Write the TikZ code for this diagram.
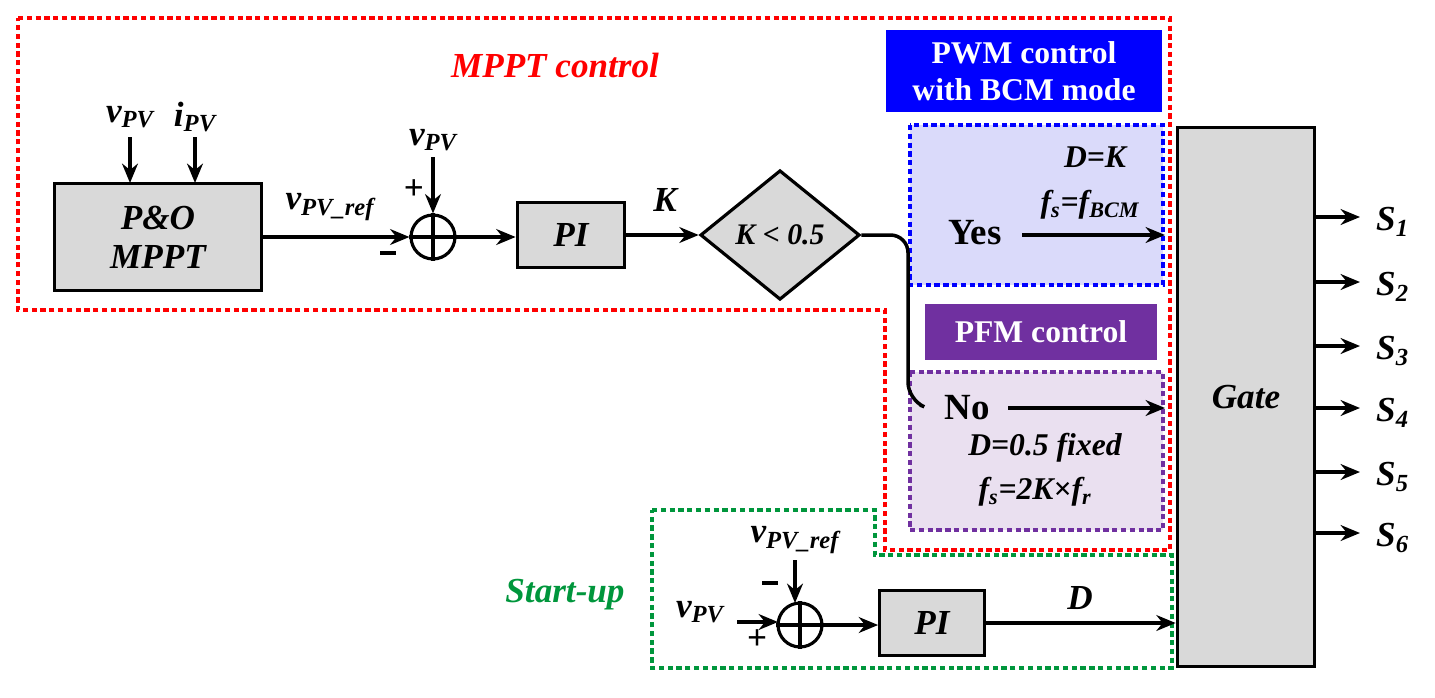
\documentclass[tikz,border=0pt]{standalone}
\usepackage{fontspec}
\setmainfont{Liberation Serif}
\usetikzlibrary{shapes.geometric,arrows.meta}
\definecolor{myblue}{RGB}{0,0,255}
\definecolor{mypurple}{RGB}{112,48,160}
\definecolor{lblue}{RGB}{218,218,250}
\definecolor{lpurp}{RGB}{234,224,240}
\definecolor{mygreen}{RGB}{0,150,60}
\definecolor{gbox}{RGB}{217,217,217}
\begin{document}
\begin{tikzpicture}[x=0.02cm,y=-0.02cm,
 blk/.style={draw,line width=1.8pt,fill=gbox,font=\fontsize{20}{22}\selectfont\bfseries\itshape,align=center},
 lbl/.style={font=\fontsize{20}{22}\selectfont\bfseries\itshape},
 sm/.style={font=\fontsize{18}{20}\selectfont\bfseries\itshape},
 arr/.style={line width=1.9pt,-{Stealth[length=11pt,width=9pt]}},
 dsh/.style={line width=2pt,dash pattern=on 3pt off 2pt},
 sg/.style={font=\fontsize{20}{22}\selectfont\bfseries},
 sum/.style={draw,circle,line width=1.8pt,minimum size=25pt,inner sep=0pt}]
\useasboundingbox (0,0) rectangle (1435,697);
% regions
\draw[red,dsh] (18,18) -- (1170,18) -- (1170,550) -- (885,550) -- (885,310) -- (18,310) -- cycle;
\node[red,lbl] (mt) at (555,65) {MPPT control};
\node[fill=myblue,text=white,font=\fontsize{18}{21}\selectfont\bfseries,align=center,minimum width=278*0.567pt,minimum height=82*0.567pt] (pwm) at (1024,71) {PWM control\\with BCM mode};
\draw[myblue,dsh,fill=lblue] (910,125) rectangle (1163,285);
\node[fill=mypurple,text=white,font=\fontsize{18}{20}\selectfont\bfseries,minimum width=232*0.567pt,minimum height=57*0.567pt] (pfm) at (1041,332) {PFM control};
\draw[mypurple,dsh,fill=lpurp] (910,372) rectangle (1163,530);
\draw[mygreen,dsh] (652,510) -- (875,510) -- (875,555) -- (1172,555) -- (1172,668) -- (652,668) -- cycle;
\node[mygreen,lbl] (su) at (565,595) {Start-up};
% gate
\node[blk,minimum width=138*0.567pt,minimum height=541*0.567pt] (gate) at (1246,397) {Gate};
\foreach \y/\i in {217/1,282/2,346/3,408/4,472/5,533/6}{
 \coordinate (o\i) at (1360,\y);
 \draw[arr] (1315,\y) -- (o\i);
 \node[lbl,anchor=west] at (1370,\y+5) {S\textsubscript{\i}};}
% MPPT chain
\node[blk,minimum width=207*0.567pt,minimum height=107*0.567pt] (po) at (158,237) {P\&O\\MPPT};
\node[lbl] (v1) at (130,117) {v\textsubscript{PV}};
\node[lbl] (i1) at (195,117) {i\textsubscript{PV}};
\draw[arr] (130,137) -- (130,183);
\draw[arr] (195,137) -- (195,183);
\node[sum] (s1) at (433,237) {};
\draw[line width=1.8pt] (s1.north) -- (s1.south) (s1.west) -- (s1.east);
\node[lbl] (v2) at (433,140) {v\textsubscript{PV}};
\draw[arr] (433,157) -- (s1.north);
\node[sg] at (414,190) {+};
\draw[line width=2pt] (380,253) -- (396,253);
\draw[arr] (po.east) -- (s1.west);
\node[lbl] at (330,207) {v\textsubscript{PV\_ref}};
\node[blk,minimum width=108*0.567pt,minimum height=66*0.567pt] (pi1) at (571,235) {PI};
\draw[arr] (s1.east) -- (pi1.west |- s1.east);
\node[lbl] at (665,200) {K};
\node[blk,diamond,aspect=1.25,minimum width=160*0.567pt,minimum height=130*0.567pt,inner sep=0pt,font=\fontsize{17}{19}\selectfont\bfseries\itshape] (dia) at (780,235) {K < 0.5};
\draw[arr] (pi1.east) -- (dia.west);
\draw[line width=2pt,rounded corners=10pt] (dia.east) -- (908,235) -- (908,400) -- (920,405);
\node[font=\fontsize{21}{23}\selectfont\bfseries] (yes) at (975,233) {Yes};
\coordinate (ye) at (1165,235);
\draw[arr] (1022,235) -- (ye);
\node[sm] at (1095,157) {D=K};
\node[sm] at (1090,205) {f\textsubscript{s}=f\textsubscript{BCM}};
\node[font=\fontsize{21}{23}\selectfont\bfseries] (no) at (967,408) {No};
\coordinate (ne) at (1165,408);
\draw[arr] (1008,408) -- (ne);
\node[sm] at (1045,448) {D=0.5 fixed};
\node[sm] at (1035,492) {f\textsubscript{s}=2K×f\textsubscript{r}};
% start-up
\node[sum] (s2) at (800,625) {};
\draw[line width=1.8pt] (s2.north) -- (s2.south) (s2.west) -- (s2.east);
\node[lbl] (v3) at (795,540) {v\textsubscript{PV\_ref}};
\draw[arr] (795,560) -- (795,603);
\draw[line width=2pt] (762,583) -- (778,583);
\node[sg] at (757,640) {+};
\node[lbl] (v4) at (700,612) {v\textsubscript{PV}};
\draw[arr] (737,622) -- (778,622);
\node[blk,minimum width=105*0.567pt,minimum height=65*0.567pt] (pi2) at (932,623) {PI};
\draw[arr] (s2.east) -- (pi2.west |- s2.east);
\node[lbl] at (1080,598) {D};
\draw[arr] (pi2.east) -- (gate.west |- pi2.east);
\end{tikzpicture}
\end{document}
